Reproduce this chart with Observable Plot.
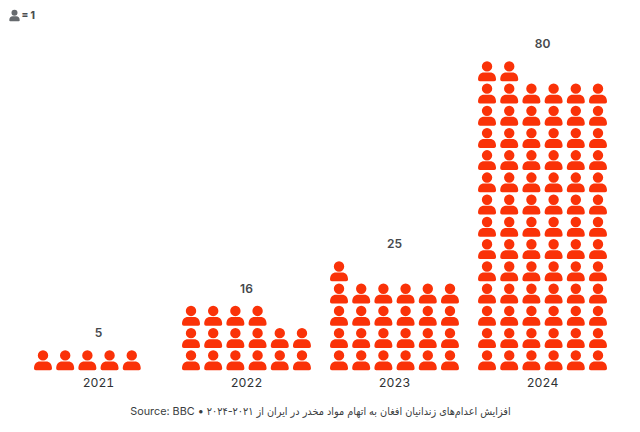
<!DOCTYPE html>
<html>
<head>
<meta charset="utf-8">
<script src="https://cdn.jsdelivr.net/npm/d3@7"></script>
<script src="https://cdn.jsdelivr.net/npm/@observablehq/plot@0.6"></script>
<style>
html,body{margin:0;padding:0;background:#fff}
svg{display:block}
</style>
</head>
<body>
<div id="chart"></div>
<script>
const years = [2021, 2022, 2023, 2024];
const counts = [5, 16, 25, 80];
const perRow = 6;
const groupStep = 6.67;
const caption = "\u202Bافزایش اعدام‌های زندانیان افغان به اتهام مواد مخدر در ایران از ۲۰۲۱-۲۰۲۴ • Source: BBC\u202C";
const legendText = "= 1";
const red = "#fa3208";
const gray = "#666a6e";
const ink = "#45484c";
const font = "Inter, 'DejaVu Sans Condensed', 'DejaVu Sans', sans-serif";

// person glyph, in units of the dot radius (R = r; r=10 gives an 18x20 icon)
const person = {
  draw(c, size) {
    const u = Math.sqrt(size / Math.PI) / 10;
    c.moveTo(5.2 * u, -4.8 * u);
    c.arc(0, -4.8 * u, 5.2 * u, 0, 2 * Math.PI);
    c.closePath();
    c.moveTo(-9 * u, 8.2 * u);
    c.bezierCurveTo(-9 * u, 3.8 * u, -6.5 * u, 1.2 * u, -3 * u, 1.2 * u);
    c.lineTo(3 * u, 1.2 * u);
    c.bezierCurveTo(6.5 * u, 1.2 * u, 9 * u, 3.8 * u, 9 * u, 8.2 * u);
    c.quadraticCurveTo(9 * u, 10 * u, 7.2 * u, 10 * u);
    c.lineTo(-7.2 * u, 10 * u);
    c.quadraticCurveTo(-9 * u, 10 * u, -9 * u, 8.2 * u);
    c.closePath();
  }
};

const icons = years.flatMap((year, g) =>
  d3.range(counts[g]).map(i => ({
    year,
    col: g * groupStep + (i % perRow),
    row: Math.floor(i / perRow)
  }))
);
const centers = years.map((_, g) => g * groupStep + (perRow - 1) / 2);
const totals = years.map((year, g) => ({
  x: centers[g],
  row: Math.ceil(counts[g] / perRow) - 1,
  label: counts[g]
}));

const chart = Plot.plot({
  width: 640,
  height: 432,
  marginTop: 0,
  marginLeft: 0,
  marginRight: 0,
  marginBottom: 60,
  x: {type: "linear", domain: [0, 3 * groupStep + 5], range: [42.5, 597.5], axis: null},
  y: {type: "linear", domain: [0, 13], range: [359.7, 70.7], axis: null},
  style: {background: "#fff", fontFamily: font},
  marks: [
    Plot.dot(icons, {x: "col", y: "row", r: 10, symbol: person, fill: red, stroke: "none"}),
    Plot.text(totals, {x: "x", y: "row", text: d => String(d.label), dy: -27, fontSize: 12, fontWeight: 600, fill: ink, fontFamily: font}),
    Plot.axisX({ticks: centers, tickFormat: (d, i) => String(years[i]), tickSize: 0, tickPadding: 6, fontSize: 12.2, fontWeight: 400, fill: "#2e3134", fontFamily: font, anchor: "bottom", label: null}),
    Plot.dot([0], {frameAnchor: "top-left", dx: 14, dy: 15, r: 5.8, symbol: person, fill: gray, stroke: "none"}),
    Plot.text([legendText], {frameAnchor: "top-left", dx: 21, dy: 11, text: d => d, textAnchor: "start", fontSize: 10, fontWeight: 800, fill: "#4a4d50", fontFamily: font}),
    Plot.text([caption], {frameAnchor: "bottom", dy: 42, text: d => d, fontSize: 10.8, fill: "#3a3d40", fontFamily: font})
  ]
});
document.getElementById("chart").append(chart);
</script>
</body>
</html>
